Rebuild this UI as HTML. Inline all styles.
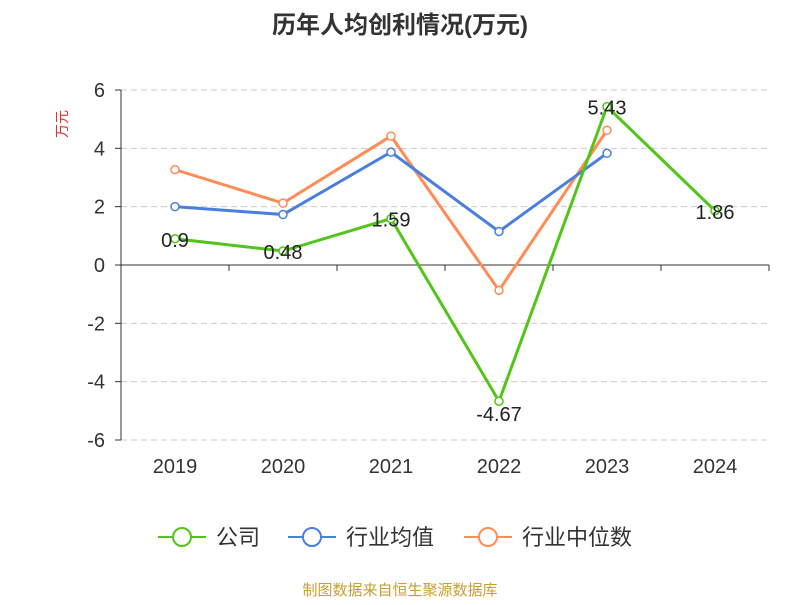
<!DOCTYPE html>
<html><head><meta charset="utf-8"><style>
body{margin:0;background:#fff;}
svg text{font-family:"Liberation Sans","Noto Sans CJK SC",sans-serif;}
</style></head><body>
<svg id="chart" width="800" height="600">
<text x="400" y="33" text-anchor="middle" font-size="24" font-weight="bold" fill="#333">历年人均创利情况(万元)</text>
<text x="67" y="124" font-size="14" fill="#e03030" transform="rotate(-90 67 124)" text-anchor="middle">万元</text>
<g id="grid"></g><g id="axes"></g><g id="series"></g>
<g>
<g><line x1="158" y1="537" x2="206" y2="537" stroke="#52c41a" stroke-width="2"/><circle cx="182" cy="537" r="9" fill="#fff" stroke="#52c41a" stroke-width="2"/><text x="216" y="545" font-size="22" fill="#333">公司</text></g>
<g><line x1="288" y1="537" x2="336" y2="537" stroke="#4a7fe0" stroke-width="2"/><circle cx="312" cy="537" r="9" fill="#fff" stroke="#4a7fe0" stroke-width="2"/><text x="346" y="545" font-size="22" fill="#333">行业均值</text></g>
<g><line x1="464" y1="537" x2="512" y2="537" stroke="#ff8c55" stroke-width="2"/><circle cx="488" cy="537" r="9" fill="#fff" stroke="#ff8c55" stroke-width="2"/><text x="522" y="545" font-size="22" fill="#333">行业中位数</text></g>
</g>
<text x="400" y="595" text-anchor="middle" font-size="15" fill="#c8a030">制图数据来自恒生聚源数据库</text>
</svg>
<script>
const categories=["2019","2020","2021","2022","2023","2024"];
const yTicks=[6,4,2,0,-2,-4,-6];
const company=[0.9,0.48,1.59,-4.67,5.43,1.86];
const companyLabels=["0.9","0.48","1.59","-4.67","5.43","1.86"];
const industryAvg=[2.0,1.73,3.87,1.15,3.83,null];
const industryMedian=[3.27,2.12,4.42,-0.87,4.62,null];
const NS="http://www.w3.org/2000/svg";
const plotLeft=121,plotRight=769,plotTop=90,plotBottom=440;
const band=(plotRight-plotLeft)/categories.length;
function xs(i){return plotLeft+band*(i+0.5);}
function ys(v){return plotTop+(6-v)/12*(plotBottom-plotTop);}
function el(t,a,p){const e=document.createElementNS(NS,t);for(const k in a)e.setAttribute(k,a[k]);p.appendChild(e);return e;}
const grid=document.getElementById('grid'),axes=document.getElementById('axes'),ser=document.getElementById('series');
yTicks.forEach(v=>{
 if(v!==0){const g=el('line',{x1:plotLeft,x2:plotRight,y1:ys(v),y2:ys(v),stroke:'#ccc','stroke-dasharray':'6,4'},grid);
 
 }
 const t=el('text',{x:plotLeft-16,y:ys(v)+7,'text-anchor':'end','font-size':20,fill:'#333'},axes);
 t.textContent=v;
 
 
 el('line',{x1:plotLeft-6,x2:plotLeft,y1:ys(v),y2:ys(v),stroke:'#333'},axes);
});
const ya=el('line',{x1:plotLeft,x2:plotLeft,y1:plotTop,y2:plotBottom,stroke:'#333'},axes);


const xa=el('line',{x1:plotLeft,x2:plotRight,y1:ys(0),y2:ys(0),stroke:'#333'},axes);


for(let i=0;i<=categories.length;i++)el('line',{x1:plotLeft+band*i,x2:plotLeft+band*i,y1:ys(0),y2:ys(0)+6,stroke:'#333'},axes);
categories.forEach((c,i)=>{const t=el('text',{x:xs(i),y:473,'text-anchor':'middle','font-size':20,fill:'#333'},axes);t.textContent=c;
 
 });
function series(data,color,name){
 const g=el('g',{},ser);
 
 
 const pts=[];data.forEach((v,i)=>{if(v!==null)pts.push([xs(i),ys(v)]);});
 el('polyline',{points:pts.map(p=>p.join(',')).join(' '),fill:'none',stroke:color,'stroke-width':3},g);
 pts.forEach(p=>{const c=el('circle',{cx:p[0],cy:p[1],r:4,fill:'#fff',stroke:color,'stroke-width':1.5},g);
 
 });
}
series(industryMedian,'#ff8c55','series-industry-median');
series(industryAvg,'#4a7fe0','series-industry-avg');
series(company,'#52c41a','series-company');
company.forEach((v,i)=>{const t=el('text',{x:xs(i),y:ys(v)+(v<0?20:8),'text-anchor':'middle','font-size':20,fill:'#222'},ser);
 t.textContent=companyLabels[i];
 
 });
</script>
</body></html>
